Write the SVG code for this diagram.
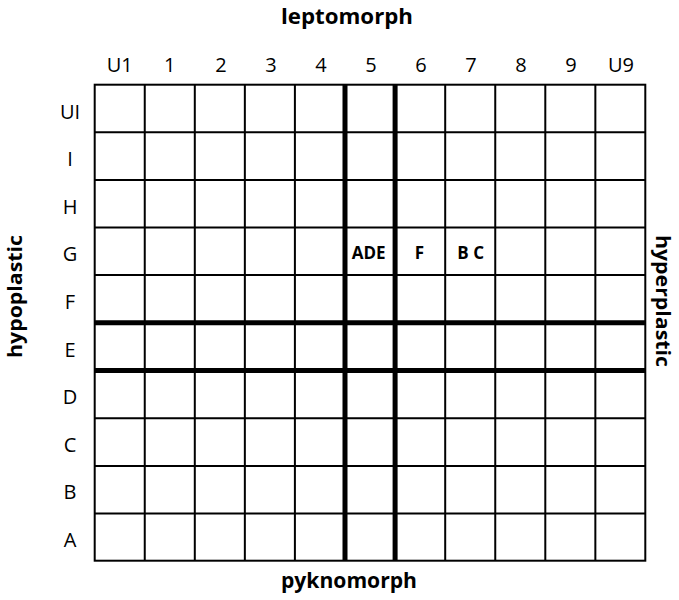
<svg xmlns="http://www.w3.org/2000/svg" width="679" height="600" viewBox="0 0 679 600">
<style>
.lbl{font-family:"Open Sans","Liberation Sans",sans-serif;font-size:20px;fill:#000;text-anchor:middle}
.ttl{font-family:"Open Sans","Liberation Sans",sans-serif;font-size:22px;font-weight:bold;fill:#000;text-anchor:middle}
.side{font-family:"Open Sans","Liberation Sans",sans-serif;font-size:20px;font-weight:bold;fill:#000;text-anchor:middle}
.tag{font-family:"Open Sans","Liberation Sans",sans-serif;font-size:17px;font-weight:bold;fill:#000;text-anchor:middle}
.thin{stroke:#000;stroke-width:2;fill:none}
.thick{stroke:#000;stroke-width:5;fill:none}
</style>
<rect width="679" height="600" fill="#fff"/>
<g id="grid">
<path class="thin" d="M144.75 84.7V560.7M194.8 84.7V560.7M244.85 84.7V560.7M294.9 84.7V560.7M445.2 84.7V560.7M495.25 84.7V560.7M545.3 84.7V560.7M595.35 84.7V560.7"/>
<path class="thin" d="M94.7 132.3H645.3M94.7 179.9H645.3M94.7 227.5H645.3M94.7 275.1H645.3M94.7 418.3H645.3M94.7 465.9H645.3M94.7 513.5H645.3"/>
<rect class="thin" x="94.7" y="84.7" width="550.6" height="476" stroke-width="2.5"/>
<path class="thick" d="M345 84.7V560.7M395.1 84.7V560.7M94.7 322.7H645.3M94.7 370.5H645.3"/>
</g>
<g id="col-labels">
<text class="lbl" x="119.7" y="72">U1</text>
<text class="lbl" x="169.8" y="72">1</text>
<text class="lbl" x="221" y="72">2</text>
<text class="lbl" x="271" y="72">3</text>
<text class="lbl" x="321" y="72">4</text>
<text class="lbl" x="371" y="72">5</text>
<text class="lbl" x="421" y="72">6</text>
<text class="lbl" x="471" y="72">7</text>
<text class="lbl" x="521" y="72">8</text>
<text class="lbl" x="571" y="72">9</text>
<text class="lbl" x="621" y="72">U9</text>
</g>
<g id="row-labels">
<text class="lbl" x="70" y="118.5">UI</text>
<text class="lbl" x="70" y="166.1">I</text>
<text class="lbl" x="70" y="213.7">H</text>
<text class="lbl" x="70" y="261.3">G</text>
<text class="lbl" x="70" y="308.9">F</text>
<text class="lbl" x="70" y="356.5">E</text>
<text class="lbl" x="70" y="404.1">D</text>
<text class="lbl" x="70" y="451.7">C</text>
<text class="lbl" x="70" y="499.3">B</text>
<text class="lbl" x="70" y="546.9">A</text>
</g>
<g id="tags">
<text class="tag" x="368.7" y="259.3">ADE</text>
<text class="tag" x="419.5" y="259.3">F</text>
<text class="tag" x="470.7" y="259.3">B C</text>
</g>
<g id="axis-titles">
<text class="ttl" x="347" y="24" textLength="132" lengthAdjust="spacingAndGlyphs">leptomorph</text>
<text class="ttl" x="349" y="588" textLength="136" lengthAdjust="spacingAndGlyphs">pyknomorph</text>
<text class="side" transform="translate(22 296.5) rotate(-90)" textLength="123" lengthAdjust="spacingAndGlyphs">hypoplastic</text>
<text class="side" transform="translate(656 301) rotate(90)" textLength="132" lengthAdjust="spacingAndGlyphs">hyperplastic</text>
</g>
</svg>
